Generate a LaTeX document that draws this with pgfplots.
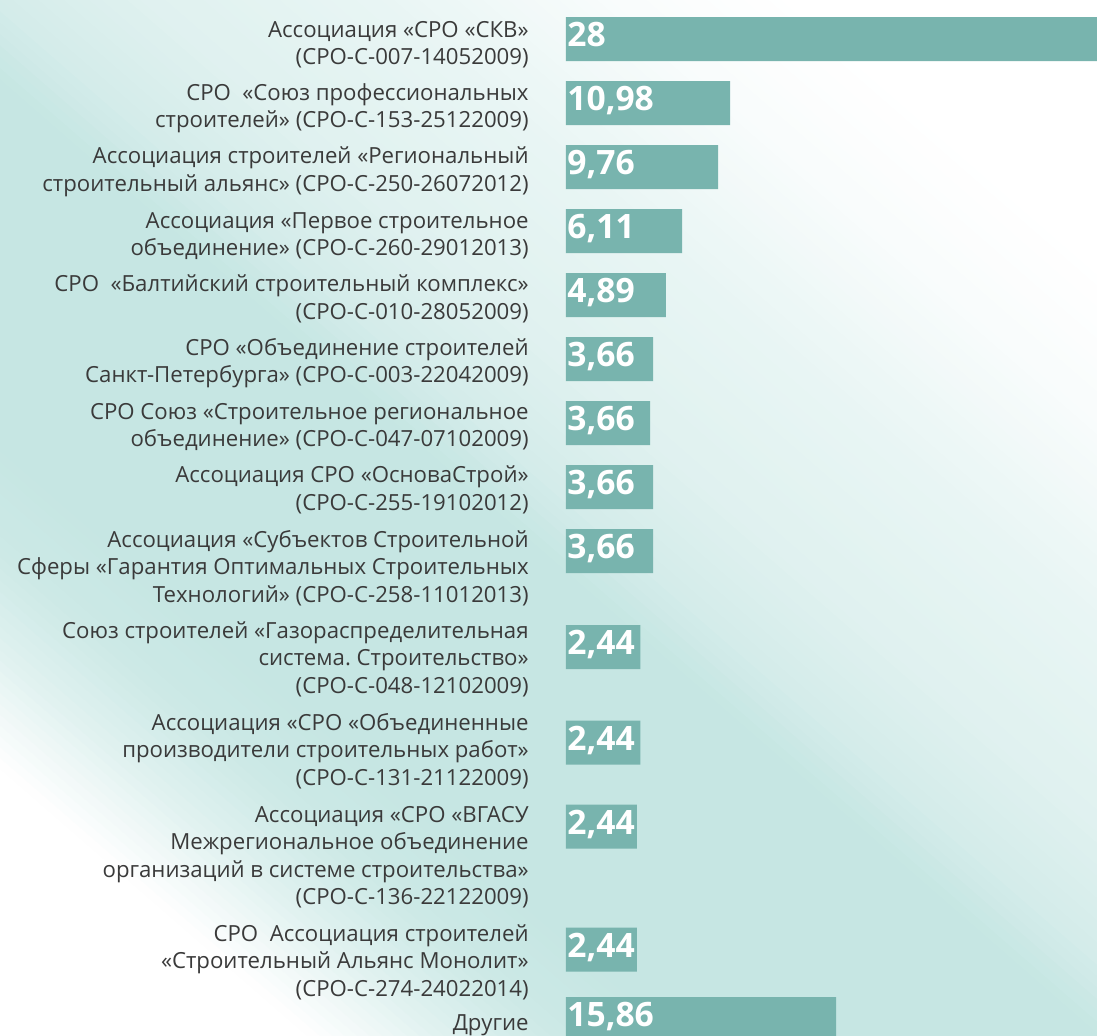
\documentclass[border=0pt]{standalone}
\usepackage{fontspec}
\setmainfont{Open Sans}
\usepackage{pgfplots}
\usepackage{pgfplotstable}
\pgfplotsset{compat=1.18}
\definecolor{bgteal}{HTML}{C6E6E3}
\definecolor{barteal}{HTML}{78B4AE}
\definecolor{labgray}{HTML}{3A3A3A}
\frenchspacing

% bar centre (px from top), drawn length (on a scale where the 28 bar fills the width), printed value
\pgfplotstableread{
y      len    val
39     28.00  28
103    8.65   10,98
167    8.02   9,76
231    6.12   6,11
295    5.27   4,89
359    4.59   3,66
423    4.43   3,66
487    4.59   3,66
551    4.59   3,66
647    3.92   2,44
742.5  3.92   2,44
826.5  3.74   2,44
949.5  3.74   2,44
1019   14.24  15,86
}\bars

\begin{document}
\begin{tikzpicture}
\useasboundingbox (0,0) rectangle (548.5pt,-518pt);
\begin{scope}
\clip (0,0) rectangle (548.5pt,-518pt);
\begin{scope}[rotate=49, x=0.5pt, y=0.5pt]
\foreach \qa/\qb/\ta/\tb in {-820/-580/0/0, -580/-490/0/55, -490/-420/55/88, -420/-340/88/100, -340/-60/100/100, -60/0/100/75, 0/100/75/55, 100/250/55/40, 250/400/40/12, 400/520/12/0, 520/800/0/0} {
  \pgfmathtruncatemacro{\n}{(\qb-\qa)/8}
  \pgfmathsetmacro{\w}{(\qb-\qa)/\n}
  \foreach \i in {1,...,\n} {
    \pgfmathsetmacro{\q}{\qa+\w*(\i-1)}
    \pgfmathtruncatemacro{\t}{\ta+(\tb-\ta)*(\i-0.5)/\n}
    \fill[bgteal!\t!white] (\q,-2000) rectangle (\q+\w+0.6,2000);
  }
}
\end{scope}
\end{scope}
\begin{axis}[
  at={(283pt,0pt)}, anchor=north west,
  scale only axis, width=265.5pt, height=518pt,
  xmin=0, xmax=28, ymin=0, ymax=1036, y dir=reverse,
  axis line style={draw=none}, xtick=\empty, major tick length=0pt,
  ytick={44.5,108,172,236,299,363,427,490,568,659,751,857,962,1025},
  yticklabels={
    {Ассоциация «СРО «СКВ»\\(СРО-С-007-14052009)},
    {СРО\ \ «Союз профессиональных\\строителей» (СРО-С-153-25122009)},
    {Ассоциация строителей «Региональный\\строительный альянс» (СРО-С-250-26072012)},
    {Ассоциация «Первое строительное\\объединение» (СРО-С-260-29012013)},
    {СРО\ \ «Балтийский строительный комплекс»\\(СРО-С-010-28052009)},
    {СРО «Объединение строителей\\Санкт-Петербурга» (СРО-С-003-22042009)},
    {СРО Союз «Строительное региональное\\объединение» (СРО-С-047-07102009)},
    {Ассоциация СРО «ОсноваСтрой»\\(СРО-С-255-19102012)},
    {Ассоциация «Субъектов Строительной\\Сферы «Гарантия Оптимальных Строительных\\Технологий» (СРО-С-258-11012013)},
    {Союз строителей «Газораспределительная\\система. Строительство»\\(СРО-С-048-12102009)},
    {Ассоциация «СРО «Объединенные\\производители строительных работ»\\(СРО-С-131-21122009)},
    {Ассоциация «СРО «ВГАСУ\\Межрегиональное объединение\\организаций в системе строительства»\\(СРО-С-136-22122009)},
    {СРО\ \ Ассоциация строителей\\«Строительный Альянс Монолит»\\(СРО-С-274-24022014)},
    {Другие}
  },
  yticklabel style={anchor=east, align=right, inner sep=0pt, xshift=-18.5pt,
    font=\fontsize{11.1pt}{13.75pt}\selectfont, text=labgray},
]
\addplot[xbar, bar width=44, fill=barteal, draw=none] table[x=len, y=y] {\bars};
\addplot[draw=none, mark=none, nodes near coords, point meta=explicit symbolic,
  every node near coord/.style={anchor=base west, inner sep=0pt, xshift=0.5pt, yshift=-3.9pt,
    text=white, font=\fontsize{16.8pt}{19pt}\selectfont\bfseries}]
  table[x expr=0, y=y, meta=val] {\bars};
\end{axis}
\end{tikzpicture}
\end{document}
